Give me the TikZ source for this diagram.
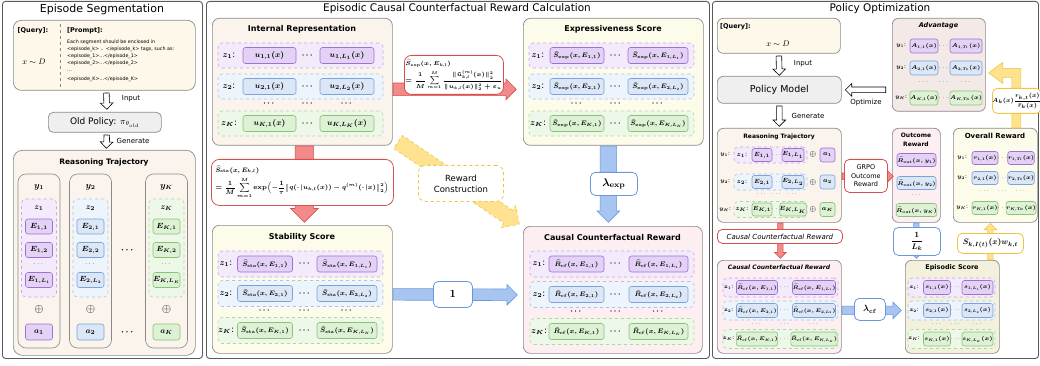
\RequirePackage{fix-cm}
\documentclass[tikz,border=0pt]{standalone}
\usepackage{amsmath,amssymb}
\usepackage[no-math]{fontspec}
\setmainfont{DejaVu Sans}
\usetikzlibrary{shapes.arrows,calc}
\definecolor{frame}{HTML}{5A5A5A}
\definecolor{boxd}{HTML}{8A8A8A}
\definecolor{cream}{HTML}{FAF4EC}
\definecolor{qcream}{HTML}{FDF8EA}
\definecolor{lgray}{HTML}{EFEFEF}
\definecolor{lyel}{HTML}{FDFBEA}
\definecolor{lpink}{HTML}{FCEEF1}
\definecolor{khaki}{HTML}{F3F0DC}
\definecolor{mauve}{HTML}{F3EAE8}
\definecolor{Pf}{HTML}{E3D2F5}\definecolor{Pd}{HTML}{9E72CF}
\definecolor{Paf}{HTML}{F3EBFB}\definecolor{Pad}{HTML}{C7A6EA}
\definecolor{Bf}{HTML}{DBE7F6}\definecolor{Bd}{HTML}{7DA2D6}
\definecolor{Baf}{HTML}{EEF4FB}\definecolor{Bad}{HTML}{A8C4E8}
\definecolor{Gf}{HTML}{DDF1D5}\definecolor{Gd}{HTML}{8BC279}
\definecolor{Gaf}{HTML}{EEF8E9}\definecolor{Gad}{HTML}{AED99E}
\definecolor{redd}{HTML}{D6504C}\definecolor{redf}{HTML}{F28A8A}
\definecolor{blued}{HTML}{6A98DE}\definecolor{bluef}{HTML}{A8C5F2}
\definecolor{yeld}{HTML}{F0C43F}\definecolor{yelf}{HTML}{FFE28F}
\newcommand\fsz[1]{\fontsize{#1}{#1}\selectfont}
\tikzset{
 panel/.style={draw=frame,line width=0.9pt,rounded corners=3pt,anchor=north west,inner sep=0pt},
 bx/.style={draw=boxd,line width=0.7pt,rounded corners=7pt,anchor=north west,inner sep=0pt},
 lab/.style={inner sep=0pt},
 PC/.style={fill=Pf,draw=Pd,rounded corners=2.5pt,line width=0.6pt,inner sep=0pt},
 BC/.style={fill=Bf,draw=Bd,rounded corners=2.5pt,line width=0.6pt,inner sep=0pt},
 GC/.style={fill=Gf,draw=Gd,rounded corners=2.5pt,line width=0.6pt,inner sep=0pt},
 PA/.style={fill=Paf,draw=Pad,dashed,rounded corners=4pt,line width=0.6pt,inner sep=0pt},
 BA/.style={fill=Baf,draw=Bad,dashed,rounded corners=4pt,line width=0.6pt,inner sep=0pt},
 GA/.style={fill=Gaf,draw=Gad,dashed,rounded corners=4pt,line width=0.6pt,inner sep=0pt},
 tag/.style={fill=white,rounded corners=5pt,line width=0.8pt,anchor=north west,inner sep=0pt,align=center},
 shaft/.style={inner ysep=#1/2},
 headx/.style={single arrow head extend=#1},
 hollow/.style={draw=black,fill=white,line width=0.6pt,shaft=5pt,headx=3.5pt},
 redarr/.style={draw=redd,fill=redf,line width=0.6pt},
 bluearr/.style={draw=blued,fill=bluef,line width=0.6pt},
 yelarr/.style={draw=yeld,fill=yelf,line width=0.6pt},
}
\newcommand\barrow[4][]{\path let \p1=#3,\p2=#4,\n1={atan2(\y2-\y1,\x2-\x1)},\n2={veclen(\x2-\x1,\y2-\y1)} in node[single arrow,inner xsep=0pt,minimum width=0pt,anchor=tail,rotate=\n1,minimum height=\n2,#1] (#2) at (\p1) {};}
\begin{document}
\begin{tikzpicture}[x=1pt,y=-1pt]
\useasboundingbox (0,0) rectangle (1040,366);
% panels
\node[panel,minimum width=200,minimum height=357] (P1) at (2,1) {};
\node[panel,minimum width=503,minimum height=357] (P2) at (206,1) {};
\node[panel,minimum width=326,minimum height=357] (P3) at (712,1) {};
\node[lab,font=\fsz{11}] (T1) at (102,9) {Episode Segmentation};
\node[lab,font=\fsz{10.5}] (T2) at (457,9) {Episodic Causal Counterfactual Reward Calculation};
\node[lab,font=\fsz{10.5}] (T3) at (880,9) {Policy Optimization};

% ---------------- left panel
\node[bx,fill=qcream,minimum width=182,minimum height=70,rounded corners=8pt] (qp) at (13,20) {};
\draw[boxd,dashed,line width=0.5pt] (60,24) -- (60,87);
\node[lab,font=\bfseries\fsz{6.5}] (qlab) at (33,31) {[Query]:};
\node[lab,font=\fsz{8}] (qx) at (34,62) {$x\sim D$};
\node[lab,anchor=west,font=\bfseries\fsz{6.5}] (plab) at (67,31) {[Prompt]:};
\node[lab,anchor=north west,align=left,font=\fontsize{4.8}{6.8}\selectfont] (ptxt) at (67,40) {Each segment should be enclosed in\\
<episode\_k> .. </episode\_k> tags, such as:\\
<episode\_1>...</episode\_1>\\
<episode\_2>...</episode\_2>\\
...\\[2.5pt]
<episode\_K>...</episode\_K>};
\node[bx,fill=lgray,minimum width=113,minimum height=20,rounded corners=5pt,font=\fsz{9}] (old) at (48,112) {Old Policy: $\pi_{\theta_{old}}$};
\node[lab,font=\fsz{7}] (inl1) at (131,99) {Input};
\node[lab,font=\fsz{7}] (genl1) at (133,141) {Generate};
\node[bx,fill=cream,minimum width=182,minimum height=205,rounded corners=9pt] (rtl) at (13,150) {};
\node[lab,font=\bfseries\fsz{7.5}] (rtlt) at (104,162) {Reasoning Trajectory};
\foreach \k/\cx/\s/\a/\sub in {1/39/PC/PA/1, 2/90.5/BC/BA/2, K/166.5/GC/GA/K}{
 \node[draw=boxd,fill=cream,rounded corners=8pt,line width=0.6pt,minimum width=42,minimum height=174,inner sep=0pt] (col\k) at (\cx,261) {};
 \node[lab,font=\boldmath\fsz{9}] (y\k) at (\cx,187) {$y_{\sub}$};
 \node[\a,minimum width=35,minimum height=98] (za\k) at (\cx,248) {};
 \node[lab,font=\boldmath\fsz{8}] (zl\k) at (\cx,208) {$z_{\sub}$};
 \node[\s,minimum width=27,minimum height=15,font=\boldmath\fsz{7.5}] (e\k a) at (\cx,226.5) {$E_{\sub,1}$};
 \node[\s,minimum width=27,minimum height=15,font=\boldmath\fsz{7.5}] (e\k b) at (\cx,250) {$E_{\sub,2}$};
 \node[lab,font=\fsz{6}] (e\k d) at (\cx,264.5) {$\cdots$};
 \node[\s,minimum width=27,minimum height=15,font=\boldmath\fsz{7.5}] (e\k c) at (\cx,280) {$E_{\sub,L_{\sub}}$};
 \node[lab,font=\fsz{12}] (o\k) at (\cx,309) {$\oplus$};
 \node[\s,minimum width=27,minimum height=16,font=\boldmath\fsz{8}] (a\k) at (\cx,332) {$a_{\sub}$};
}
\node[lab,font=\boldmath\fsz{9}] (cd1) at (128,250) {$\cdots$};
\node[lab,font=\boldmath\fsz{9}] (cd2) at (128,332) {$\cdots$};

% ---------------- middle panel
\node[bx,fill=cream,minimum width=180,minimum height=127] (ir) at (212,18) {};
\node[lab,font=\bfseries\fsz{8}] (irt) at (302,29.5) {Internal Representation};
\foreach \k/\yc/\s/\a/\sub in {1/55.5/PC/PA/1, 2/86.5/BC/BA/2, K/123.5/GC/GA/K}{
 \node[\a,minimum width=165,minimum height=25] (ira\k) at (300.5,\yc) {};
 \node[lab,font=\boldmath\fsz{8.5}] (irz\k) at (229,\yc) {$z_{\sub}$:};
 \node[\s,minimum width=53,minimum height=16,font=\boldmath\fsz{8}] (iru\k) at (269.5,\yc) {$u_{\sub,1}(x)$};
 \node[lab,font=\boldmath\fsz{8}] (ird\k) at (308,\yc) {$\cdots$};
 \node[\s,minimum width=54,minimum height=16,font=\boldmath\fsz{8}] (irv\k) at (347,\yc) {$u_{\sub,L_{\sub}}(x)$};
}
\foreach \i/\xx in {1/269.5,2/308,3/347} \node[lab,font=\boldmath\fsz{8}] (irdd\i) at (\xx,104) {$\cdots$};

\node[bx,fill=lyel,minimum width=180,minimum height=127] (es) at (523,18) {};
\node[lab,font=\bfseries\fsz{8}] (est) at (613,29.5) {Expressiveness Score};
\foreach \k/\yc/\s/\a/\sub in {1/55.5/PC/PA/1, 2/86.5/BC/BA/2, K/123.5/GC/GA/K}{
 \node[\a,minimum width=165,minimum height=25] (esa\k) at (611.5,\yc) {};
 \node[lab,font=\boldmath\fsz{8.5}] (esz\k) at (538,\yc) {$z_{\sub}$:};
 \node[\s,minimum width=54,minimum height=16,font=\boldmath\fsz{6.5}] (esu\k) at (577,\yc) {$\widehat{S}_{\mathbf{exp}}(x,E_{\sub,1})$};
 \node[lab,font=\boldmath\fsz{8}] (esd\k) at (616,\yc) {$\cdots$};
 \node[\s,minimum width=60,minimum height=16,font=\boldmath\fsz{6.5}] (esv\k) at (658,\yc) {$\widehat{S}_{\mathbf{exp}}(x,E_{\sub,L_{\sub}})$};
}
\foreach \i/\xx in {1/577,2/616,3/658} \node[lab,font=\boldmath\fsz{8}] (esdd\i) at (\xx,104) {$\cdots$};

\node[bx,fill=lyel,minimum width=180,minimum height=128] (ss) at (212,225) {};
\node[lab,font=\bfseries\fsz{8}] (sst) at (302,237) {Stability Score};
\foreach \k/\yc/\s/\a/\sub in {1/264/PC/PA/1, 2/293.5/BC/BA/2, K/330.5/GC/GA/K}{
 \node[\a,minimum width=165,minimum height=26] (ssa\k) at (300.5,\yc) {};
 \node[lab,font=\boldmath\fsz{8.5}] (ssz\k) at (226,\yc) {$z_{\sub}$:};
 \node[\s,minimum width=55,minimum height=16,font=\boldmath\fsz{6.5}] (ssu\k) at (265,\yc) {$\widehat{S}_{\mathbf{sta}}(x,E_{\sub,1})$};
 \node[lab,font=\boldmath\fsz{8}] (ssd\k) at (305,\yc) {$\cdots$};
 \node[\s,minimum width=60,minimum height=16,font=\boldmath\fsz{6.5}] (ssv\k) at (347,\yc) {$\widehat{S}_{\mathbf{sta}}(x,E_{\sub,L_{\sub}})$};
}
\foreach \i/\xx in {1/265,2/305,3/347} \node[lab,font=\boldmath\fsz{8}] (ssdd\i) at (\xx,311) {$\cdots$};

\node[bx,fill=lpink,minimum width=179,minimum height=127] (ccr) at (523,226) {};
\node[lab,font=\bfseries\fsz{8}] (ccrt) at (612.5,238) {Causal Counterfactual Reward};
\foreach \k/\yc/\s/\a/\sub in {1/264/PC/PA/1, 2/294.5/BC/BA/2, K/331.5/GC/GA/K}{
 \node[\a,minimum width=164,minimum height=26] (cca\k) at (612,\yc) {};
 \node[lab,font=\boldmath\fsz{8.5}] (ccz\k) at (539,\yc) {$z_{\sub}$:};
 \node[\s,minimum width=55,minimum height=16,font=\boldmath\fsz{6.5}] (ccu\k) at (576.5,\yc) {$\widehat{R}_{\mathbf{cf}}(x,E_{\sub,1})$};
 \node[lab,font=\boldmath\fsz{8}] (ccd\k) at (616,\yc) {$\cdots$};
 \node[\s,minimum width=59,minimum height=16,font=\boldmath\fsz{6.5}] (ccv\k) at (658.5,\yc) {$\widehat{R}_{\mathbf{cf}}(x,E_{\sub,L_{\sub}})$};
}
\foreach \i/\xx in {1/576.5,2/616,3/658.5} \node[lab,font=\boldmath\fsz{8}] (ccdd\i) at (\xx,312) {$\cdots$};

% ---------------- right panel boxes
\node[bx,fill=qcream,minimum width=123,minimum height=35,rounded corners=6pt] (rq) at (717,18) {};
\node[lab,anchor=west,font=\bfseries\fsz{6.5}] (rql) at (720,27) {[Query]:};
\node[lab,font=\fsz{8}] (rqx) at (778,44) {$x\sim D$};
\node[bx,fill=lgray,minimum width=124,minimum height=27,rounded corners=6pt,font=\fsz{9.5}] (pm) at (717,76) {Policy Model};
\node[lab,font=\fsz{7}] (inl2) at (803,64) {Input};
\node[lab,font=\fsz{7}] (genl2) at (808,116) {Generate};
\node[lab,font=\fsz{7}] (optl) at (866,103) {Optimize};

\node[bx,fill=mauve,minimum width=93,minimum height=93,rounded corners=6pt] (adv) at (892,18) {};
\node[lab,font=\bfseries\itshape\fsz{6.5}] (advt) at (938.5,26) {Advantage};
\foreach \k/\yc/\s/\sub in {1/46/PC/1,2/68/BC/2,K/98/GC/K}{
 \node[lab,font=\boldmath\fsz{5.5}] (advy\k) at (901,\yc) {$y_{\sub}$:};
 \node[\s,minimum width=28,minimum height=14,font=\boldmath\fsz{5.5}] (adva\k) at (924,\yc) {$A_{\sub,1}(x)$};
 \node[lab,font=\fsz{5.5}] (advd\k) at (944,\yc) {$\cdots$};
 \node[\s,minimum width=32,minimum height=14,font=\boldmath\fsz{5.5}] (advb\k) at (966,\yc) {$A_{\sub,T_{\sub}}(x)$};
}
\foreach \i/\xx in {1/924,2/944,3/966} \node[lab,font=\fsz{5.5}] (advdd\i) at (\xx,82) {$\cdots$};

\node[bx,fill=cream,minimum width=124,minimum height=94,rounded corners=6pt] (rrt) at (717,128) {};
\node[lab,font=\bfseries\fsz{6}] (rrtt) at (779,136.5) {Reasoning Trajectory};
\foreach \k/\yc/\s/\a/\sub in {1/155/PC/PA/1,2/182/BC/BA/2,K/209.5/GC/GA/K}{
 \node[lab,font=\boldmath\fsz{5.5}] (ry\k) at (725,\yc) {$y_{\sub}$:};
 \node[\a,minimum width=73,minimum height=16] (rza\k) at (770.5,\yc) {};
 \node[lab,font=\boldmath\fsz{6}] (rz\k) at (742,\yc) {$z_{\sub}$:};
 \node[\s,minimum width=20,minimum height=13,font=\boldmath\fsz{6}] (re\k a) at (762,\yc) {$E_{\sub,1}$};
 \node[lab,font=\fsz{5}] (re\k d) at (777,\yc) {$\cdots$};
 \node[\s,minimum width=22,minimum height=13,font=\boldmath\fsz{6}] (re\k b) at (793,\yc) {$E_{\sub,L_{\sub}}$};
 \node[lab,font=\fsz{8}] (ro\k) at (813,\yc) {$\oplus$};
 \node[\s,minimum width=15,minimum height=14,font=\boldmath\fsz{6.5}] (ra\k) at (827.5,\yc) {$a_{\sub}$};
}
\foreach \i/\xx in {1/762,2/777,3/793} \node[lab,font=\fsz{5}] (rdd\i) at (\xx,194) {$\cdots$};

\node[bx,fill=lpink,minimum width=48,minimum height=94,rounded corners=6pt] (out) at (892,128) {};
\node[lab,align=center,font=\bfseries\fontsize{6}{8.5}\selectfont] (outt) at (916,140) {Outcome\\Reward};
\foreach \k/\yc/\s/\sub in {1/160/PC/1,2/183/BC/2,K/210/GC/K}
 \node[\s,minimum width=39,minimum height=13,font=\boldmath\fsz{5.5}] (oc\k) at (916.5,\yc) {$\widehat{R}_{\mathbf{out}}(x,y_{\sub})$};
\node[lab,font=\fsz{5}] (ocd) at (916.5,195) {$\cdots$};

\node[bx,fill=lyel,minimum width=84,minimum height=94,rounded corners=6pt] (ovr) at (953,128) {};
\node[lab,font=\bfseries\fsz{7}] (ovrt) at (995,136) {Overall Reward};
\foreach \k/\yc/\s/\sub in {1/158/PC/1,2/178/BC/2,K/208/GC/K}{
 \node[lab,font=\boldmath\fsz{5.5}] (ovy\k) at (962,\yc) {$y_{\sub}$:};
 \node[\s,minimum width=26,minimum height=13,font=\boldmath\fsz{5.5}] (ova\k) at (985,\yc) {$r_{\sub,1}(x)$};
 \node[lab,font=\fsz{5}] (ovd\k) at (1003,\yc) {$\cdots$};
 \node[\s,minimum width=26,minimum height=13,font=\boldmath\fsz{5.5}] (ovb\k) at (1021,\yc) {$r_{\sub,T_{\sub}}(x)$};
}
\foreach \i/\xx in {1/985,2/1003,3/1021} \node[lab,font=\fsz{5}] (ovdd\i) at (\xx,191) {$\cdots$};

\node[bx,fill=lpink,minimum width=124,minimum height=93,rounded corners=6pt] (rccr) at (717,260) {};
\node[lab,font=\bfseries\itshape\fsz{6}] (rccrt) at (779,267.5) {Causal Counterfactual Reward};
\foreach \k/\yc/\s/\a/\sub in {1/287.5/PC/PA/1,2/310.5/BC/BA/2,K/339/GC/GA/K}{
 \node[\a,minimum width=115,minimum height=19] (rca\k) at (780.5,\yc) {};
 \node[lab,font=\boldmath\fsz{5.5}] (rcz\k) at (728.5,\yc) {$z_{\sub}$:};
 \node[\s,minimum width=41,minimum height=14,font=\boldmath\fsz{5.3}] (rcu\k) at (757,\yc) {$\widehat{R}_{\mathbf{cf}}(x,E_{\sub,1})$};
 \node[lab,font=\fsz{5}] (rcd\k) at (785,\yc) {$\cdots$};
 \node[\s,minimum width=42,minimum height=14,font=\boldmath\fsz{5.3}] (rcv\k) at (814,\yc) {$\widehat{R}_{\mathbf{cf}}(x,E_{\sub,L_{\sub}})$};
}
\foreach \i/\xx in {1/757,2/785,3/814} \node[lab,font=\fsz{5}] (rcdd\i) at (\xx,324) {$\cdots$};

\node[bx,fill=khaki,minimum width=94,minimum height=93,rounded corners=6pt] (eps) at (905,260) {};
\node[lab,font=\bfseries\fsz{6.5}] (epst) at (952,267.5) {Episodic Score};
\foreach \k/\yc/\s/\a/\sub in {1/287.5/PC/PA/1,2/310.5/BC/BA/2,K/339/GC/GA/K}{
 \node[\a,minimum width=87,minimum height=19] (epa\k) at (951.5,\yc) {};
 \node[lab,font=\boldmath\fsz{5.5}] (epz\k) at (914,\yc) {$z_{\sub}$:};
 \node[\s,minimum width=27,minimum height=14,font=\boldmath\fsz{5.5}] (epu\k) at (937,\yc) {$s_{\sub,1}(x)$};
 \node[lab,font=\fsz{5}] (epd\k) at (956,\yc) {$\cdots$};
 \node[\s,minimum width=31,minimum height=14,font=\boldmath\fsz{5.5}] (epv\k) at (977.5,\yc) {$s_{\sub,L_{\sub}}(x)$};
}
\foreach \i/\xx in {1/937,2/956,3/977.5} \node[lab,font=\fsz{5}] (epdd\i) at (\xx,324) {$\cdots$};

% ---------------- arrows
\barrow[hollow]{ain1}{($(qp.south)+(2,2)$)}{($(old.north)+(2,-3)$)}
\barrow[hollow]{agen1}{($(old.south)+(2,2)$)}{($(rtl.north)+(2,-2)$)}
\barrow[hollow]{ain2}{($(rq.south)+(0,2)$)}{($(pm.north)+(0,-1)$)}
\barrow[hollow]{agen2}{($(pm.south)+(0,2)$)}{($(rrt.north)+(0,-2)$)}
\barrow[hollow]{aopt}{($(adv.west)+(-6,25)$)}{($(pm.east)+(4,0)$)}

\barrow[redarr,shaft=12pt,headx=4pt]{aexp}{($(ir.east)+(0,7.5)$)}{($(es.west)+(-7,7.5)$)}
\barrow[redarr,shaft=18pt,headx=4.5pt]{asta}{($(ir.south)+(2,0)$)}{($(ss.north)+(2,-3)$)}
\barrow[bluearr,shaft=11pt,headx=4.5pt]{aone}{($(ss.east)+(0,5)$)}{($(ccr.west)+(-6,5)$)}
\barrow[bluearr,shaft=16pt,headx=3pt]{alexp}{($(es.south)+(-5,0)$)}{($(ccr.north)+(-4.5,-4)$)}
\barrow[yelarr,dashed,shaft=15pt,headx=5.5pt]{arc}{($(ir.south east)+(5,-4)$)}{($(ccr.north west)+(-4,-2)$)}

\barrow[redarr,shaft=6pt,headx=3pt]{agrpo}{($(rrt.east)+(0,1)$)}{($(out.west)+(1,1)$)}
\barrow[redarr,shaft=5pt,headx=3pt]{arccr}{($(rrt.south)+(1,0)$)}{($(rccr.north)+(1,-2)$)}
\barrow[bluearr,shaft=5pt,headx=3pt]{alk}{(out.south)}{($(out.south|-eps.north)+(0,-2)$)}
\barrow[bluearr,shaft=8pt,headx=4pt]{alcf}{($(rccr.east)+(0,3.5)$)}{($(eps.west)+(-4,3.5)$)}
\barrow[yelarr,shaft=5pt,headx=3.5pt]{asw}{($(eps.north)+(38,0)$)}{($(ovr.south)+(-5,1)$)}
\coordinate (Ls) at ($(ovr.north)+(21,0)$);
\coordinate (Lt) at ($(adv.east)+(3,8)$);
\draw[yelarr,line join=miter] ($(Ls)+(-4.5,0)$) -- ($(Ls|-Lt)+(-4.5,4.5)$) -- ($(Lt)+(14,4.5)$) -- ($(Lt)+(14,10.5)$) -- (Lt) -- ($(Lt)+(14,-10.5)$) -- ($(Lt)+(14,-4.5)$) -- ($(Ls|-Lt)+(4.5,-4.5)$) -- ($(Ls)+(4.5,0)$) -- cycle;

% ---------------- tags
\node[tag,draw=redd,minimum width=99,minimum height=39,rounded corners=7pt] (fexp) at (404,55) {};
\node[lab,align=left,font=\boldmath\fontsize{5.8}{7}\selectfont] (fexpt) at (454,75) {$\widehat{S}_{\mathbf{exp}}(x,E_{k,l})$\\[2.5pt]$=\dfrac{1}{M}\displaystyle\sum_{m=1}^{M}\frac{\|\tilde{u}^{(m)}_{k,l}(x)\|_2^2}{\|u_{k,l}(x)\|_2^2+\varepsilon_u}$};
\node[tag,draw=redd,minimum width=182,minimum height=46,rounded corners=8pt] (fsta) at (211,159) {};
\node[lab,align=left,font=\boldmath\fontsize{6.4}{7.5}\selectfont] (fstat) at (302,182) {$\widehat{S}_{\mathbf{sta}}(x,E_{k,l})$\\[3pt]$=\dfrac{1}{M}\displaystyle\sum_{m=1}^{M}\exp\Bigl(-\frac{1}{\tau}\bigl\|q(\cdot\,|u_{k,l}(x))-q^{(m)}(\cdot\,|x)\bigr\|_2^2\Bigr)$};
\node[tag,draw=blued,minimum width=39,minimum height=26,font=\boldmath\fsz{11}] (one) at (433,281) {$1$};
\node[tag,draw=blued,minimum width=47,minimum height=23,font=\boldmath\fsz{11}] (lexp) at (590,172) {$\lambda_{\mathbf{exp}}$};
\node[tag,draw=yeld,dashed,minimum width=85,minimum height=36,rounded corners=7pt,font=\fontsize{8.5}{11}\selectfont] (rc) at (418,165) {Reward\\Construction};

\node[tag,draw=redd,minimum width=43,minimum height=33,font=\fontsize{6.5}{8.5}\selectfont] (grpo) at (844,159) {GRPO\\Outcome\\Reward};
\node[tag,draw=redd,minimum width=125,minimum height=14,font=\itshape\fsz{7}] (ccrl) at (717,229) {Causal Counterfactual Reward};
\node[tag,draw=blued,minimum width=47,minimum height=28,font=\boldmath\fsz{8}] (linv) at (893,227) {$\dfrac{1}{L_k}$};
\node[tag,draw=yeld,minimum width=66,minimum height=20,font=\boldmath\fsz{8}] (sw) at (957,233) {$S_{k,I(t)}(x)w_{k,t}$};
\node[tag,draw=blued,minimum width=31,minimum height=22,font=\boldmath\fsz{9}] (lcf) at (854,298) {$\lambda_{\mathbf{cf}}$};
\node[tag,draw=yeld,minimum width=46,minimum height=25,font=\boldmath\fsz{6}] (ak) at (992,88) {$A_k(x)\dfrac{r_{k,t}(x)}{\bar{r}_k(x)}$};
\end{tikzpicture}
\end{document}
